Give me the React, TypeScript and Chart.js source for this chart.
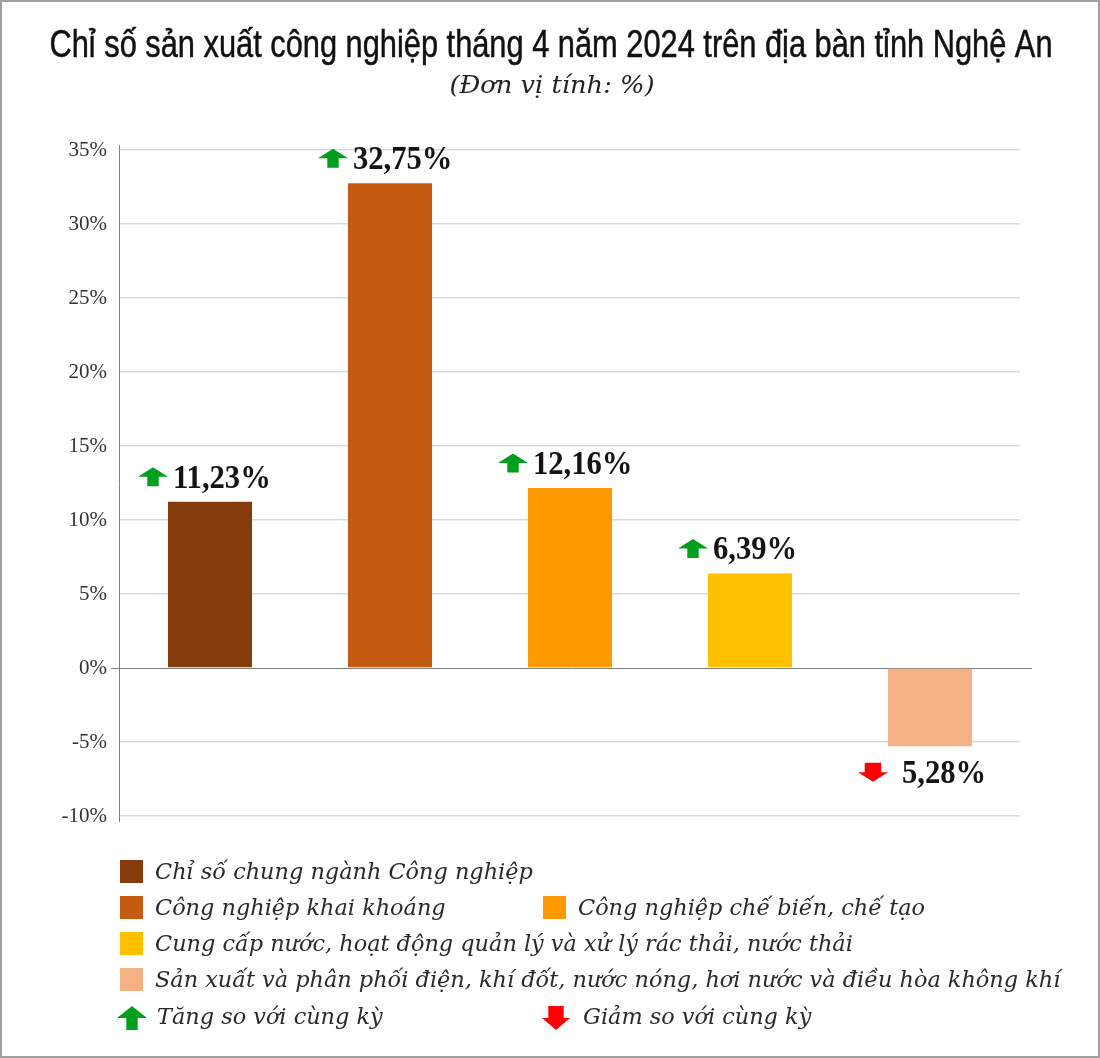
import React, { useEffect, useRef } from "react";
import { Chart, registerables } from "chart.js";

Chart.register(...registerables);

const titleText = "Chỉ số sản xuất công nghiệp tháng 4 năm 2024 trên địa bàn tỉnh Nghệ An";
const subtitleText = "(Đơn vị tính: %)";
const categories = [
  "Chỉ số chung ngành Công nghiệp",
  "Công nghiệp khai khoáng",
  "Công nghiệp chế biến, chế tạo",
  "Cung cấp nước, hoạt động quản lý và xử lý rác thải, nước thải",
  "Sản xuất và phân phối điện, khí đốt, nước nóng, hơi nước và điều hòa không khí",
];
const values = [11.23, 32.75, 12.16, 6.39, -5.28];
const valueLabels = ["11,23%", "32,75%", "12,16%", "6,39%", "5,28%"];
const barColors = ["#843C0C", "#C55A11", "#FF9900", "#FFC000", "#F4B183"];
const trendLabels = ["Tăng so với cùng kỳ", "Giảm so với cùng kỳ"];
const trendColors = ["#00A01E", "#FF0000"];
const yMin = -10;
const yMax = 35;
const yStep = 5;

// legend layout (row, column) for each category
const legendSlots = [
  [0, 0],
  [1, 0],
  [1, 1],
  [2, 0],
  [3, 0],
];
const legendRowsY = [872, 908, 944, 980, 1018];
const legendColsX = [120, 543];

function drawArrow(ctx: CanvasRenderingContext2D, x: number, cy: number, w: number, h: number, up: boolean, color: string) {
  const sw = w * (up ? 0.38 : 0.55);
  const hh = h * 0.5;
  const cx = x + w / 2;
  const top = cy - h / 2;
  const bot = cy + h / 2;
  ctx.save();
  ctx.fillStyle = color;
  ctx.beginPath();
  if (up) {
    ctx.moveTo(cx, top);
    ctx.lineTo(x + w, top + hh);
    ctx.lineTo(cx + sw / 2, top + hh);
    ctx.lineTo(cx + sw / 2, bot);
    ctx.lineTo(cx - sw / 2, bot);
    ctx.lineTo(cx - sw / 2, top + hh);
    ctx.lineTo(x, top + hh);
  } else {
    ctx.moveTo(cx, bot);
    ctx.lineTo(x + w, bot - hh);
    ctx.lineTo(cx + sw / 2, bot - hh);
    ctx.lineTo(cx + sw / 2, top);
    ctx.lineTo(cx - sw / 2, top);
    ctx.lineTo(cx - sw / 2, bot - hh);
    ctx.lineTo(x, bot - hh);
  }
  ctx.closePath();
  ctx.fill();
  ctx.restore();
}

function fitText(ctx: CanvasRenderingContext2D, text: string, font: string, cx: number, baseline: number, width: number, color: string, stroke = 0) {
  ctx.save();
  ctx.font = font;
  ctx.fillStyle = color;
  ctx.strokeStyle = color;
  ctx.textAlign = "center";
  ctx.textBaseline = "alphabetic";
  const w = ctx.measureText(text).width;
  ctx.translate(cx, baseline);
  ctx.scale(width / w, 1);
  ctx.fillText(text, 0, 0);
  if (stroke > 0) {
    ctx.lineWidth = stroke;
    ctx.strokeText(text, 0, 0);
  }
  ctx.restore();
}

const decorPlugin = {
  id: "decor",
  beforeDraw(chart: any) {
    const ctx = chart.ctx as CanvasRenderingContext2D;
    ctx.save();
    ctx.fillStyle = "#ffffff";
    ctx.fillRect(0, 0, chart.width, chart.height);
    ctx.restore();
  },
  beforeDatasetsDraw(chart: any) {
    const ctx = chart.ctx as CanvasRenderingContext2D;
    const { left, right, top, bottom } = chart.chartArea;
    const y = chart.scales.y;
    const y0 = Math.round(y.getPixelForValue(0)) + 0.5;
    ctx.save();
    ctx.strokeStyle = "#7f7f7f";
    ctx.lineWidth = 1;
    ctx.beginPath();
    ctx.moveTo(left - 9, y0);
    ctx.lineTo(right + 12, y0);
    ctx.stroke();
    ctx.beginPath();
    ctx.moveTo(left - 0.5, top - 5);
    ctx.lineTo(left - 0.5, bottom + 6);
    ctx.stroke();
    ctx.restore();
  },
  afterDatasetsDraw(chart: any) {
    const ctx = chart.ctx as CanvasRenderingContext2D;
    const meta = chart.getDatasetMeta(0);
    ctx.save();
    ctx.font = 'bold 34px "Liberation Serif"';
    ctx.fillStyle = "#141414";
    ctx.textAlign = "left";
    ctx.textBaseline = "middle";
    meta.data.forEach((el: any, i: number) => {
      const v = values[i];
      const up = v >= 0;
      const cy = up ? el.y - 24 : el.y + 27;
      const label = valueLabels[i];
      drawArrow(ctx, el.x - 72, cy - 1, 30, 19, up, up ? trendColors[0] : trendColors[1]);
      ctx.save();
      ctx.translate(el.x + (up ? -37 : -28), cy + 1);
      ctx.scale(0.9, 1);
      ctx.fillText(label, 0, 0);
      ctx.restore();
    });
    ctx.restore();
  },
  afterDraw(chart: any) {
    const ctx = chart.ctx as CanvasRenderingContext2D;
    fitText(ctx, titleText, '38px "Liberation Sans"', 551, 57, 1003, "#111111", 0.5);
    fitText(ctx, subtitleText, 'italic 24px "DejaVu Serif"', 552, 93, 205, "#222222");

    ctx.save();
    ctx.font = 'italic 22.4px "DejaVu Serif"';
    ctx.fillStyle = "#2a2a2a";
    ctx.textAlign = "left";
    ctx.textBaseline = "middle";
    categories.forEach((c, i) => {
      const [r, col] = legendSlots[i];
      const x = legendColsX[col];
      const y = legendRowsY[r];
      ctx.fillStyle = barColors[i];
      ctx.fillRect(x, y - 12, 23, 23);
      ctx.fillStyle = "#2a2a2a";
      ctx.fillText(c, x + 35, y + 1);
    });
    const ry = legendRowsY[4];
    drawArrow(ctx, legendColsX[0] - 3, ry, 30, 24, true, trendColors[0]);
    ctx.fillStyle = "#2a2a2a";
    ctx.fillText(trendLabels[0], legendColsX[0] + 37, ry);
    drawArrow(ctx, legendColsX[1] - 1, ry, 28, 24, false, trendColors[1]);
    ctx.fillStyle = "#2a2a2a";
    ctx.fillText(trendLabels[1], legendColsX[1] + 40, ry);
    ctx.restore();

    ctx.save();
    ctx.strokeStyle = "#a0a0a0";
    ctx.lineWidth = 2;
    ctx.strokeRect(1, 1, chart.width - 2, chart.height - 2);
    ctx.restore();
  },
};

export default function App() {
  const ref = useRef<HTMLCanvasElement | null>(null);
  useEffect(() => {
    if (!ref.current) return;
    const chart = new Chart(ref.current, {
      type: "bar",
      data: {
        labels: categories,
        datasets: [
          {
            data: values,
            backgroundColor: barColors,
            borderWidth: 0,
            barPercentage: 0.467,
            categoryPercentage: 1,
          },
        ],
      },
      options: {
        responsive: false,
        animation: false,
        layout: { padding: { left: 0, top: 150, right: 80, bottom: 242 } },
        plugins: {
          legend: { display: false },
          title: { display: false },
          tooltip: { enabled: false },
        },
        scales: {
          x: { display: false },
          y: {
            min: yMin,
            max: yMax,
            afterFit: (scale: any) => {
              scale.width = 120;
            },
            ticks: {
              stepSize: yStep,
              padding: 13,
              color: "#333333",
              font: { family: "Liberation Serif", size: 21 },
              callback: (v: any) => `${v}%`,
            },
            grid: {
              drawTicks: false,
              color: (c: any) => (c.tick && c.tick.value === 0 ? "rgba(0,0,0,0)" : "#d9d9d9"),
              lineWidth: 1.5,
            },
            border: { display: false },
          },
        },
      },
      plugins: [decorPlugin],
    });
    return () => chart.destroy();
  }, []);
  return (
    <div style={{ position: "absolute", left: 0, top: 0, width: 1100, height: 1058 }}>
      <canvas ref={ref} width={1100} height={1058} />
    </div>
  );
}
